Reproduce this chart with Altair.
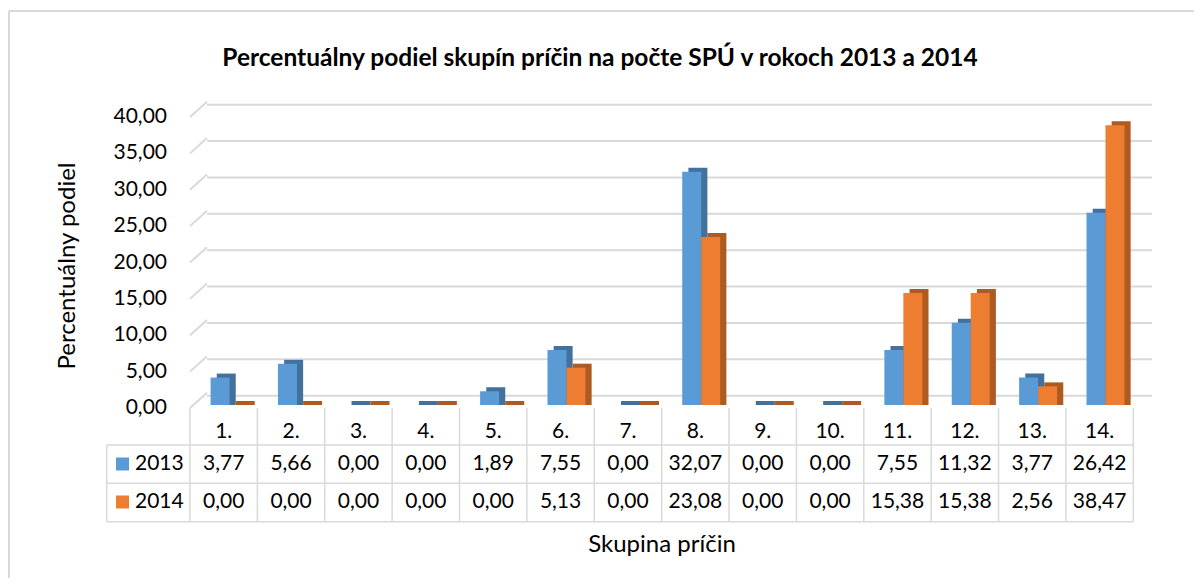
import altair as alt
import pandas as pd

categories = ["1.", "2.", "3.", "4.", "5.", "6.", "7.", "8.", "9.", "10.", "11.", "12.", "13.", "14."]
years = ["2013", "2014"]
vals_2013 = [3.77, 5.66, 0.00, 0.00, 1.89, 7.55, 0.00, 32.07, 0.00, 0.00, 7.55, 11.32, 3.77, 26.42]
vals_2014 = [0.00, 0.00, 0.00, 0.00, 0.00, 5.13, 0.00, 23.08, 0.00, 0.00, 15.38, 15.38, 2.56, 38.47]
y_ticks = [0, 5, 10, 15, 20, 25, 30, 35, 40]

title_text = "Percentuálny podiel skupín príčin na počte SPÚ v rokoch 2013 a 2014"
y_title = "Percentuálny podiel"
x_title = "Skupina príčin"

FRONT = ["#5B9BD5", "#ED7D31"]
DARK = ["#41719C", "#AE5A21"]
GRID = "#D9D9D9"
FONT = "Lato"


def fmt(v):
    return f"{v:.2f}".replace(".", ",")


rows = []
for y, vals in zip(years, [vals_2013, vals_2014]):
    for c, v in zip(categories, vals):
        rows.append({"cat": c, "year": y, "value": v, "label": fmt(v)})
df = pd.DataFrame(rows)
ticks = pd.DataFrame({"v": y_ticks, "label": [fmt(t) for t in y_ticks]})
cats_df = pd.DataFrame({"cat": categories})
one = pd.DataFrame({"k": [0]})

xscale = alt.Scale(domain=categories, range=[182, 1125.3], paddingInner=0, paddingOuter=0)
yscale = alt.Scale(domain=[0, 40], range=[397, 106], nice=False, zero=True)
X = alt.X("cat:N", scale=xscale, axis=None)
Ybar = alt.Y("value:Q", scale=yscale, axis=None, stack=None)

# back-wall gridlines
grid = alt.Chart(ticks).mark_rule(color=GRID, strokeWidth=2).encode(
    y=alt.Y("v:Q", scale=yscale, axis=None),
    x=alt.value(199), x2=alt.value(1144),
    yOffset=alt.value(-9.3),
)
# side-wall slanted segments
slant = alt.Chart(ticks).transform_calculate(v2="datum.v + 1.69").mark_rule(
    color=GRID, strokeWidth=2
).encode(
    y=alt.Y("v:Q", scale=yscale, axis=None),
    y2="v2:Q",
    x=alt.value(182), x2=alt.value(199),
    yOffset=alt.value(3),
)

# 3D depth (top + side faces)
shadow = alt.Chart(df).transform_calculate(top="datum.value + 0.55").mark_bar().encode(
    x=X,
    xOffset=alt.XOffset("year:N", scale=alt.Scale(domain=years, paddingInner=0, paddingOuter=0.774, align=0.91)),
    y=alt.Y("top:Q", scale=yscale, axis=None, stack=None),
    color=alt.Color("year:N", scale=alt.Scale(domain=years, range=DARK), legend=None),
)
front = alt.Chart(df).mark_bar().encode(
    x=X,
    xOffset=alt.XOffset("year:N", scale=alt.Scale(domain=years, paddingInner=0, paddingOuter=0.774, align=0.70)),
    y=Ybar,
    color=alt.Color("year:N", scale=alt.Scale(domain=years, range=FRONT), legend=None),
)

# y tick labels
ylabels = alt.Chart(ticks).mark_text(align="right", baseline="middle", font=FONT, fontSize=21, dy=3, color="#000").encode(
    y=alt.Y("v:Q", scale=yscale, axis=None),
    x=alt.value(159),
    text="label:N",
)

# data table lines
vlines = alt.Chart(cats_df).mark_rule(color=GRID, strokeWidth=1.5).encode(
    x=alt.X("cat:N", scale=xscale, axis=None, bandPosition=0),
    y=alt.value(400), y2=alt.value(513.7),
)
vlast = alt.Chart(pd.DataFrame({"cat": [categories[-1]]})).mark_rule(color=GRID, strokeWidth=1.5).encode(
    x=alt.X("cat:N", scale=xscale, axis=None, bandPosition=1),
    y=alt.value(400), y2=alt.value(513.7),
)
hl = []
for yy in [437, 475.3, 513.7]:
    hl.append(alt.Chart(one).mark_rule(color=GRID, strokeWidth=1.5).encode(
        x=alt.value(98.7), x2=alt.value(1125.3), y=alt.value(yy)))
left_border = alt.Chart(one).mark_rule(color=GRID, strokeWidth=1.5).encode(
    x=alt.value(98.7), y=alt.value(437), y2=alt.value(513.7))

# outer chart border (left + top)
border_l = alt.Chart(one).mark_rule(color=GRID, strokeWidth=2).encode(
    x=alt.value(1), y=alt.value(3), y2=alt.value(600))
border_t = alt.Chart(one).mark_rule(color=GRID, strokeWidth=2).encode(
    x=alt.value(1), x2=alt.value(1300), y=alt.value(3))

# table texts
header = alt.Chart(cats_df).mark_text(font=FONT, fontSize=21, baseline="middle", color="#000").encode(
    x=X, y=alt.value(424), text="cat:N")
row_layers = []
for i, (yr, ypos) in enumerate(zip(years, [456, 494])):
    row_layers.append(
        alt.Chart(df).transform_filter(alt.datum.year == yr).mark_text(
            font=FONT, fontSize=21, baseline="middle", color="#000"
        ).encode(x=X, y=alt.value(ypos), text="label:N")
    )
    row_layers.append(
        alt.Chart(one).mark_rect(color=FRONT[i]).encode(
            x=alt.value(108), x2=alt.value(121), y=alt.value(ypos - 6.5), y2=alt.value(ypos + 6.5))
    )
    row_layers.append(
        alt.Chart(one).mark_text(font=FONT, fontSize=21, align="left", baseline="middle", color="#000").encode(
            x=alt.value(127), y=alt.value(ypos), text=alt.value(yr))
    )

title = alt.Chart(one).mark_text(font=FONT, fontSize=24.5, fontWeight="bold", baseline="middle", color="#000").encode(
    x=alt.value(592), y=alt.value(51), text=alt.value(title_text))
ytitle = alt.Chart(one).mark_text(font=FONT, fontSize=24, angle=270, baseline="middle", color="#000").encode(
    x=alt.value(60), y=alt.value(258), text=alt.value(y_title))
xtitle = alt.Chart(one).mark_text(font=FONT, fontSize=24, baseline="middle", color="#000").encode(
    x=alt.value(654), y=alt.value(537), text=alt.value(x_title))

chart = alt.layer(
    border_l, border_t, grid, slant, shadow, front, ylabels, vlines, vlast, *hl, left_border,
    header, *row_layers, title, ytitle, xtitle,
).resolve_scale(
    xOffset="independent", color="independent"
).properties(
    width=1186, height=570, autosize=alt.AutoSizeParams(type="none"), padding=0,
).configure_view(stroke=None)

chart.save("out.html", embed_options={"renderer": "svg", "actions": False})
